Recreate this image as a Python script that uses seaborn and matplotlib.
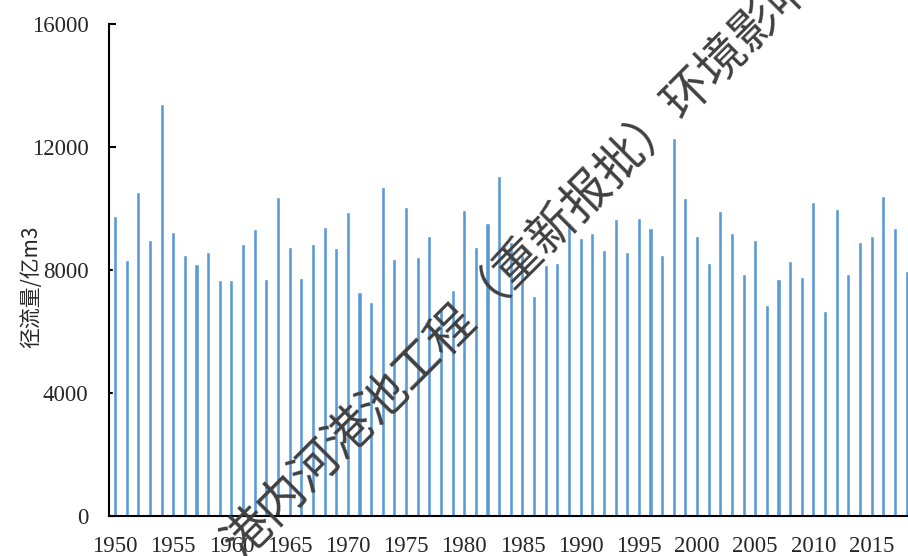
import numpy as np
import pandas as pd
import seaborn as sns
import matplotlib
matplotlib.use('Agg')
import matplotlib.pyplot as plt
from matplotlib.ticker import FixedLocator

# yearly runoff
years = list(range(1950, 2019))
runoff = [9770, 8330, 10530, 8990, 13400, 9240, 8490, 8200, 8570, 7660,
          7660, 8860, 9330, 7690, 10370, 8740, 7730, 8860, 9400, 8700,
          9900, 7280, 6950, 10690, 8360, 10040, 8410, 9120, 6750, 7360,
          9960, 8740, 9530, 11070, 8900, 8500, 7160, 8170, 8240, 9540,
          9050, 9200, 8660, 9660, 8570, 9700, 9370, 8490, 12290, 10340,
          9110, 8240, 9910, 9200, 7870, 8980, 6870, 7700, 8280, 7770,
          10200, 6660, 9990, 7870, 8910, 9110, 10410, 9360, 7980]
tick_years = list(range(1950, 2019, 5))
y_ticks = [0, 4000, 8000, 12000, 16000]
ylabel = '径流量/亿m3'
watermark = '港内河港池工程（重新报批）环境影响'

df = pd.DataFrame({'year': [str(y) for y in years], 'runoff': runoff})

sns.set_style('white')
plt.rcParams['font.family'] = ['Liberation Serif', 'DejaVu Serif']

fig = plt.figure(figsize=(9.08, 5.56), dpi=100)
ax = fig.add_axes([0.1203, 0.0728, 0.8845, 0.8835])

sns.barplot(data=df, x='year', y='runoff', color='#5B9BD5', width=0.35,
            saturation=1, ax=ax)

ax.set_xlim(-0.5, len(years) - 0.5)
ax.set_ylim(0, 16000)

# labels centred on the bars, tick marks between categories
pos = [years.index(y) for y in tick_years]
ax.set_xticks(pos)
ax.set_xticklabels([str(y) for y in tick_years], fontsize=16.5)
ax.xaxis.set_minor_locator(FixedLocator([p - 0.5 for p in pos]))
ax.tick_params(axis='x', which='major', length=0, pad=15)
ax.tick_params(axis='x', which='minor', direction='in', length=5, width=1.5, color='black')

ax.set_yticks(y_ticks)
ax.set_yticklabels([str(v) for v in y_ticks], fontsize=16.5)
ax.tick_params(axis='y', which='major', direction='in', length=5, width=1.5,
               color='black', pad=15, left=True)

ax.set_xlabel('')
ax.set_ylabel(ylabel, fontsize=15, family=['Noto Sans CJK SC', 'DejaVu Sans'])
ax.yaxis.set_label_coords(-0.083, 0.465)

for s in ['top', 'right']:
    ax.spines[s].set_visible(False)
for s in ['left', 'bottom']:
    ax.spines[s].set_color('black')
    ax.spines[s].set_linewidth(1.5)

fig.text(519 / 908, 1 - 262 / 556, watermark, rotation=45, rotation_mode='anchor',
         ha='center', va='center', fontsize=34.5, color='#404040', fontweight='light',
         family=['Noto Sans CJK SC', 'DejaVu Sans'])

fig.savefig('out.png', dpi=100)
